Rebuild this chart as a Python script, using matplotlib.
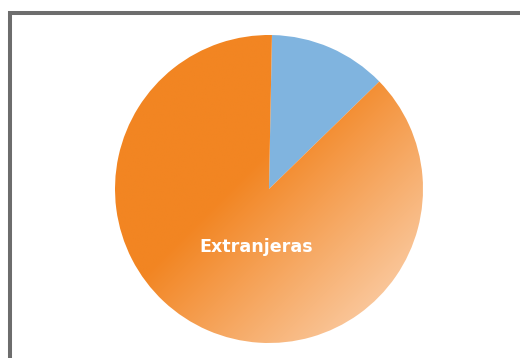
import numpy as np
import matplotlib
matplotlib.use('AGG')
import matplotlib.pyplot as plt
from matplotlib.colors import LinearSegmentedColormap
from matplotlib.patches import Rectangle

labels = ['', 'Extranjeras']
values = [12.4, 87.6]
colors = ['#80B4DF', 'none']

W, H = 520, 358
cx, cy, r = 269, 189, 154

fig = plt.figure(figsize=(W / 100, H / 100), dpi=100)
fig.patch.set_facecolor('white')

# gray frame, cut off at the right and bottom
fig.patches.append(Rectangle((10 / W, -0.1), 1.2, 1.1 - 13 / H,
                             transform=fig.transFigure, fill=False,
                             edgecolor='#6D6D6D', linewidth=2.9))

ax = fig.add_axes([(cx - r) / W, (H - cy - r) / H, 2 * r / W, 2 * r / H])
wedges, _ = ax.pie(values, colors=colors, startangle=88.9, counterclock=False,
                   radius=1, wedgeprops=dict(linewidth=0))

# diagonal orange gradient inside the big slice
cmap = LinearSegmentedColormap.from_list(
    'orng', [(0, '#F28522'), (0.40, '#F28522'), (1, '#FAC89D')])
xx, yy = np.meshgrid(np.linspace(-1, 1, 400), np.linspace(1, -1, 400))
u = (xx - yy) / np.sqrt(2)
img = ax.imshow(u, cmap=cmap, vmin=-1, vmax=1.05, extent=[-1, 1, -1, 1],
                origin='upper', interpolation='bilinear', zorder=1)
img.set_clip_path(wedges[1])

ax.text(-0.08, -0.375, labels[1], color='white', fontsize=12.6,
        fontweight='bold', ha='center', va='center', zorder=3)

ax.set_xlim(-1, 1)
ax.set_ylim(-1, 1)
ax.axis('off')

fig.savefig('out.png', dpi=100)
plt.close()
